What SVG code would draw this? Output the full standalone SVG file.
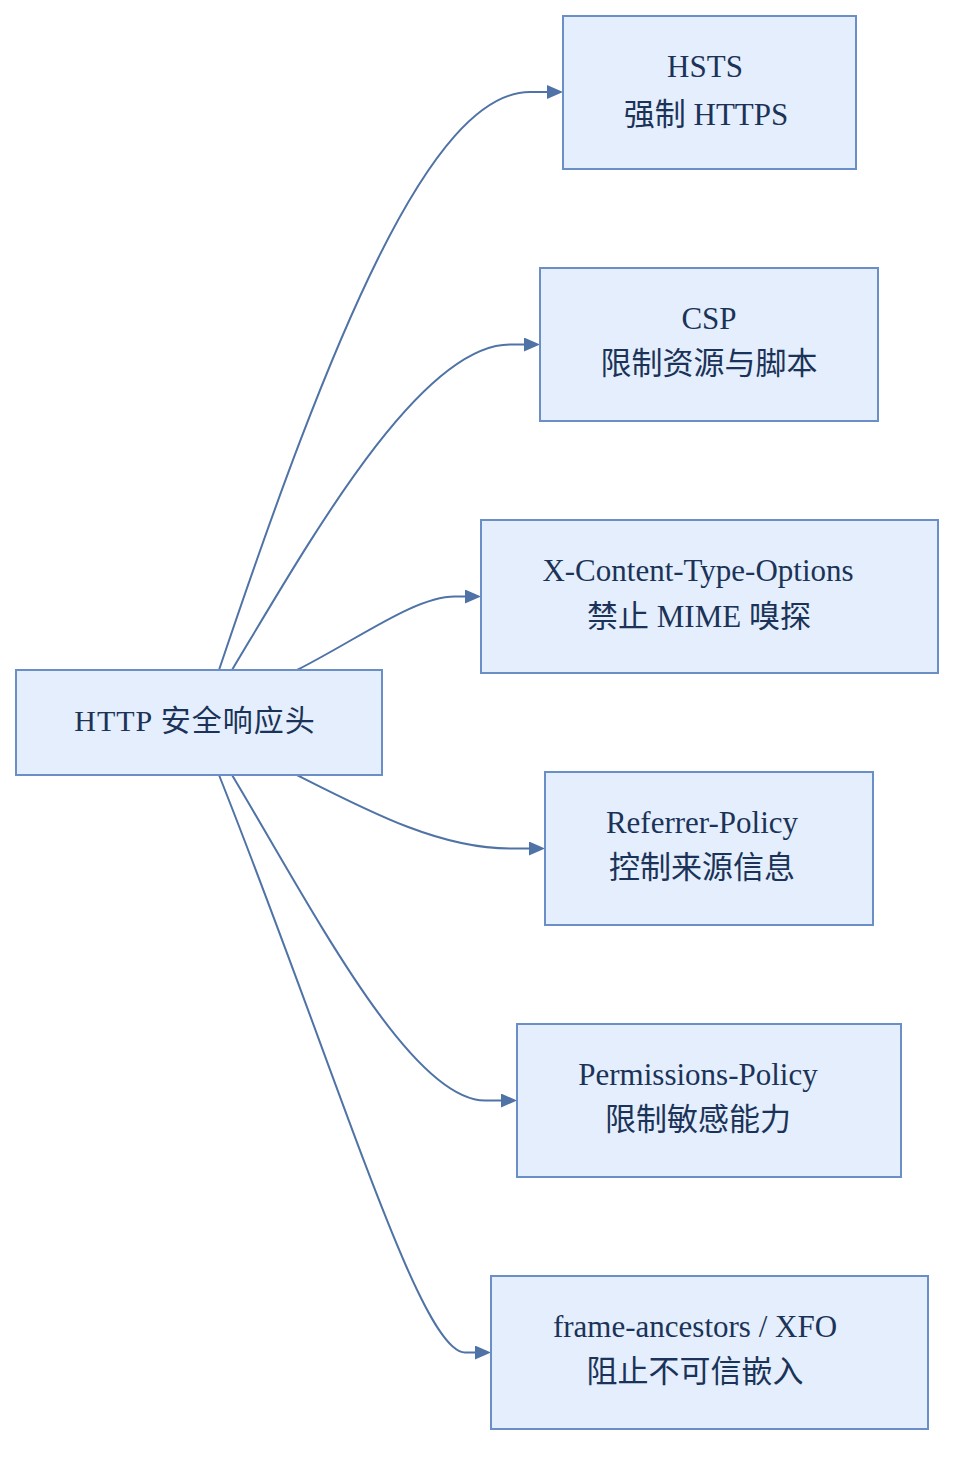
<svg xmlns="http://www.w3.org/2000/svg" width="970" height="1468" viewBox="0 0 970 1468">
<style>
.box{fill:#e4eefc;stroke:#6a8ec6;stroke-width:2}
.lbl{font-family:"Liberation Serif","Noto Sans CJK SC",serif;font-size:31px;fill:#1b3358;text-anchor:middle}
.root{font-size:30px;letter-spacing:1px}
.edge{fill:none;stroke:#4f73a6;stroke-width:2}
</style>
<defs>
<marker id="arr" viewBox="0 0 16 14" refX="0" refY="7" markerWidth="16" markerHeight="14" markerUnits="userSpaceOnUse" orient="auto">
<path d="M0,0 L16,7 L0,14 Z" fill="#4f73a6"/>
</marker>
</defs>
<rect width="970" height="1468" fill="#ffffff"/>
<g id="connectors">
<path class="edge" marker-end="url(#arr)" d="M219,670 C330,340 430,92 530,92 L547,92"/>
<path class="edge" marker-end="url(#arr)" d="M232,670 C310,540 420,344.5 510,344.5 L524,344.5"/>
<path class="edge" marker-end="url(#arr)" d="M297,670 C360,638 415,596.5 455,596.5 L465,596.5"/>
<path class="edge" marker-end="url(#arr)" d="M297,775 C370,812 440,848.5 510,848.5 L529,848.5"/>
<path class="edge" marker-end="url(#arr)" d="M232,775 C310,905 410,1100.5 485,1100.5 L501,1100.5"/>
<path class="edge" marker-end="url(#arr)" d="M219,775 C340,1080 420,1352.5 465,1352.5 L475,1352.5"/>
</g>
<g id="root">
<rect class="box" x="16" y="670" width="366" height="105"/>
<text class="lbl root" x="195" y="731">HTTP 安全响应头</text>
</g>
<g id="hsts">
<rect class="box" x="563" y="16" width="293" height="153"/>
<text class="lbl" x="705" y="77">HSTS</text>
<text class="lbl" x="706" y="125">强制 HTTPS</text>
</g>
<g id="csp">
<rect class="box" x="540" y="268" width="338" height="153"/>
<text class="lbl" x="709" y="329">CSP</text>
<text class="lbl" x="709" y="374">限制资源与脚本</text>
</g>
<g id="xcto">
<rect class="box" x="481" y="520" width="457" height="153"/>
<text class="lbl" x="698" y="581">X-Content-Type-Options</text>
<text class="lbl" x="699" y="627">禁止 MIME 嗅探</text>
</g>
<g id="referrer">
<rect class="box" x="545" y="772" width="328" height="153"/>
<text class="lbl" x="702" y="833">Referrer-Policy</text>
<text class="lbl" x="702" y="878">控制来源信息</text>
</g>
<g id="permissions">
<rect class="box" x="517" y="1024" width="384" height="153"/>
<text class="lbl" x="698" y="1085">Permissions-Policy</text>
<text class="lbl" x="698" y="1130">限制敏感能力</text>
</g>
<g id="frame">
<rect class="box" x="491" y="1276" width="437" height="153"/>
<text class="lbl" x="695" y="1337">frame-ancestors / XFO</text>
<text class="lbl" x="695" y="1382">阻止不可信嵌入</text>
</g>
</svg>
